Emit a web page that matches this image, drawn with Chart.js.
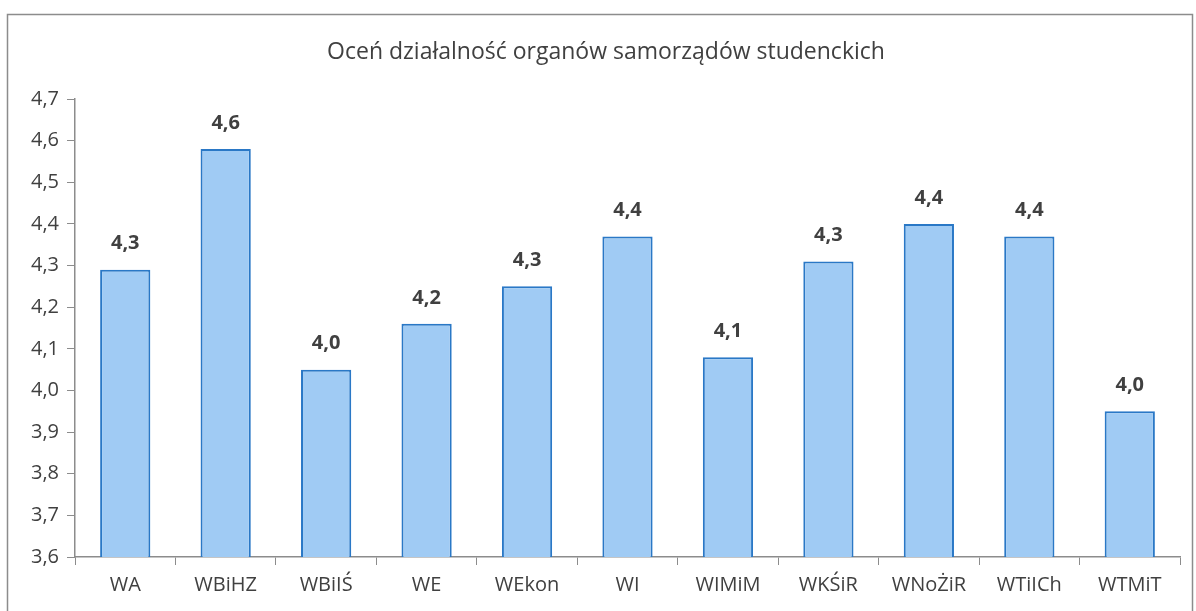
<!DOCTYPE html>
<html>
<head>
<meta charset="utf-8">
<script src="https://cdn.jsdelivr.net/npm/chart.js@4"></script>
<style>
  html, body { margin: 0; padding: 0; background: #fff; }
  #wrap { width: 1196px; height: 611px; }
</style>
</head>
<body>
<div id="wrap"><canvas id="chart" width="1196" height="611"></canvas></div>
<script>
// data
const categories = ['WA', 'WBiHZ', 'WBiIŚ', 'WE', 'WEkon', 'WI', 'WIMiM', 'WKŚiR', 'WNoŻiR', 'WTiICh', 'WTMiT'];
const ratings = [4.29, 4.58, 4.05, 4.16, 4.25, 4.37, 4.08, 4.31, 4.40, 4.37, 3.95];
const yTicks = [3.6, 3.7, 3.8, 3.9, 4.0, 4.1, 4.2, 4.3, 4.4, 4.5, 4.6, 4.7];
const titleText = 'Oceń działalność organów samorządów studenckich';

const FONT = '"Open Sans", "Noto Sans", sans-serif';
const fmt = v => v.toFixed(1).replace('.', ',');

// frame, title and value labels
const decor = {
  id: 'decor',
  beforeDraw(chart) {
    const c = chart.ctx;
    c.save();
    c.strokeStyle = '#8c8c8c';
    c.lineWidth = 1.5;
    c.strokeRect(7.5, 14.5, 1185, 620);
    c.fillStyle = '#404040';
    c.font = '23px ' + FONT;
    c.textAlign = 'center';
    c.textBaseline = 'middle';
    c.fillText(titleText, 606, 52);
    c.restore();
  },
  afterDatasetsDraw(chart) {
    const c = chart.ctx;
    const meta = chart.getDatasetMeta(0);
    c.save();
    c.fillStyle = '#404040';
    c.font = 'bold 20px ' + FONT;
    c.textAlign = 'center';
    c.textBaseline = 'middle';
    meta.data.forEach((bar, i) => {
      c.fillText(fmt(ratings[i]), bar.x, bar.y - 26);
    });
    c.restore();
  }
};

new Chart(document.getElementById('chart'), {
  type: 'bar',
  data: {
    labels: categories,
    datasets: [{
      data: ratings,
      backgroundColor: '#a0cbf4',
      borderColor: '#2a78c6',
      borderWidth: 2,
      barPercentage: 0.5,
      categoryPercentage: 1.0
    }]
  },
  options: {
    responsive: false,
    animation: false,
    layout: { padding: { top: 99, right: 16, left: 0, bottom: 0 } },
    plugins: { legend: { display: false }, title: { display: false }, tooltip: { enabled: false } },
    scales: {
      x: {
        grid: { drawOnChartArea: false, drawTicks: true, tickLength: 8, color: '#8c8c8c', offset: true },
        border: { display: true, color: '#8c8c8c', width: 1.5 },
        ticks: { color: '#404040', font: { family: FONT, size: 20 }, padding: 8 },
        afterFit: s => { s.height = 54; }
      },
      y: {
        min: 3.6,
        max: 4.7,
        afterBuildTicks: s => { s.ticks = yTicks.map(v => ({ value: v })); },
        grid: { drawOnChartArea: false, drawTicks: true, tickLength: 8, color: '#8c8c8c' },
        border: { display: true, color: '#8c8c8c', width: 1.5 },
        ticks: { color: '#404040', font: { family: FONT, size: 20 }, padding: 8, callback: v => fmt(v) },
        afterFit: s => { s.width = 75; }
      }
    }
  },
  plugins: [decor]
});
</script>
</body>
</html>
